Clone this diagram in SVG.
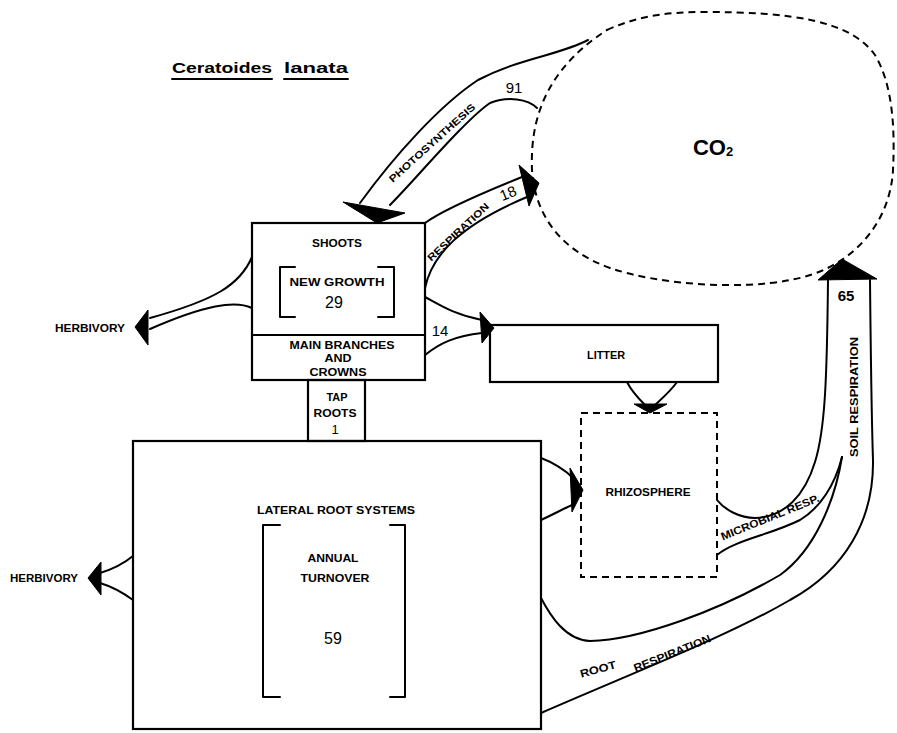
<svg xmlns="http://www.w3.org/2000/svg" width="897" height="733" viewBox="0 0 897 733">
<style>
.ln{fill:none;stroke:#000;stroke-width:2;stroke-linecap:round;stroke-linejoin:round}
.box{fill:none;stroke:#000;stroke-width:2.2}
.dash{fill:none;stroke:#000;stroke-width:2;stroke-dasharray:7 5}
.ah{fill:#000;stroke:#000;stroke-width:1;stroke-linejoin:round}
.lb{font-family:"Liberation Sans",Arial,sans-serif;font-weight:bold;font-size:11px;fill:#000;text-anchor:middle;dominant-baseline:central}
.num{font-family:"Liberation Sans",Arial,sans-serif;font-size:16px;fill:#000;text-anchor:middle;dominant-baseline:central}
.ttl{font-family:"Liberation Sans",Arial,sans-serif;font-weight:bold;font-size:15px;fill:#000}
</style>
<rect width="897" height="733" fill="#fff"/>

<g id="title">
<text class="ttl" x="172" y="73" textLength="100" lengthAdjust="spacingAndGlyphs">Ceratoides</text>
<text class="ttl" x="284" y="73" textLength="64" lengthAdjust="spacingAndGlyphs">lanata</text>
<line class="ln" x1="172" y1="79" x2="272" y2="79"/>
<line class="ln" x1="284" y1="79" x2="348" y2="79"/>
</g>

<g id="co2">
<path class="dash" d="M607,30 C640,15 670,12 705,12 C790,12 850,20 875,55 C893,85 895,130 893,170 C890,225 850,270 790,280 C740,290 660,285 610,268 C560,250 535,215 532,170 C530,120 545,70 607,30 Z"/>
<text class="lb" x="713" y="147" style="font-size:22px" text-anchor="middle">CO<tspan style="font-size:13px" dy="4">2</tspan></text>
</g>

<g id="shoots">
<rect class="box" x="252" y="223" width="173" height="157"/>
<line class="box" x1="252" y1="335" x2="425" y2="335"/>
<text class="lb" x="337" y="243" textLength="50" lengthAdjust="spacingAndGlyphs">SHOOTS</text>
<path class="ln" d="M295,267 H280 V317 H295 M378,267 H394 V317 H378"/>
<text class="lb" x="337" y="282" textLength="95" lengthAdjust="spacingAndGlyphs">NEW GROWTH</text>
<text class="num" x="334" y="302">29</text>
<text class="lb" x="342" y="345" textLength="105" lengthAdjust="spacingAndGlyphs">MAIN BRANCHES</text>
<text class="lb" x="338" y="358" textLength="27" lengthAdjust="spacingAndGlyphs">AND</text>
<text class="lb" x="338" y="372" textLength="57" lengthAdjust="spacingAndGlyphs">CROWNS</text>
</g>

<g id="taproots">
<rect class="box" x="308" y="380" width="57" height="61"/>
<text class="lb" x="337" y="397" textLength="21" lengthAdjust="spacingAndGlyphs">TAP</text>
<text class="lb" x="335" y="413" textLength="43" lengthAdjust="spacingAndGlyphs">ROOTS</text>
<text class="lb" x="335" y="429" style="font-weight:normal;font-size:13px">1</text>
</g>

<g id="lateral">
<rect class="box" x="133" y="441" width="408" height="288"/>
<text class="lb" x="336" y="510" textLength="158" lengthAdjust="spacingAndGlyphs">LATERAL ROOT SYSTEMS</text>
<path class="ln" d="M280,525 H263 V697 H280 M390,525 H405 V697 H390"/>
<text class="lb" x="333" y="558" textLength="51" lengthAdjust="spacingAndGlyphs">ANNUAL</text>
<text class="lb" x="335" y="578" textLength="69" lengthAdjust="spacingAndGlyphs">TURNOVER</text>
<text class="num" x="333" y="638">59</text>
</g>

<g id="litter">
<rect class="box" x="490" y="325" width="228" height="57"/>
<text class="lb" x="606" y="355" textLength="38" lengthAdjust="spacingAndGlyphs">LITTER</text>
</g>

<g id="rhizosphere">
<rect class="dash" x="581" y="413" width="136" height="164"/>
<text class="lb" x="648" y="492" textLength="85" lengthAdjust="spacingAndGlyphs">RHIZOSPHERE</text>
</g>

<g id="herbivory-top">
<text class="lb" x="90" y="328" textLength="70" lengthAdjust="spacingAndGlyphs">HERBIVORY</text>
</g>
<g id="herbivory-bottom">
<text class="lb" x="44" y="578" textLength="68" lengthAdjust="spacingAndGlyphs">HERBIVORY</text>
</g>

<g id="connectors">
<!-- photosynthesis -->
<path class="ln" d="M588,40 C560,55 520,58 478,80 C440,105 395,155 360,203"/>
<path class="ln" d="M537,108 C528,99 508,96 490,103 C465,120 415,180 390,205"/>
<polygon class="ah" points="343,202 405,213 377,223"/>
<text class="lb" transform="translate(432,143) rotate(-42)" style="font-size:10px" textLength="112" lengthAdjust="spacingAndGlyphs">PHOTOSYNTHESIS</text>
<text class="num" x="514" y="87" style="font-size:15px">91</text>
<!-- respiration -->
<path class="ln" d="M425,223 C440,212 470,198 522,177"/>
<path class="ln" d="M425,288 C432,255 460,225 527,197"/>
<polygon class="ah" points="519,165 539,183 529,206"/>
<text class="lb" transform="translate(458,232) rotate(-43)" style="font-size:10px" textLength="80" lengthAdjust="spacingAndGlyphs">RESPIRATION</text>
<text class="num" transform="translate(508,193) rotate(-22)" style="font-size:15px">18</text>
<!-- to litter -->
<path class="ln" d="M425,297 C440,305 455,315 482,320"/>
<path class="ln" d="M425,355 C440,343 455,336 482,333"/>
<polygon class="ah" points="480,312 494,328 482,343"/>
<text class="num" x="440" y="330" style="font-size:15px">14</text>
<!-- herbivory top -->
<path class="ln" d="M252,257 C240,285 215,300 150,318"/>
<path class="ln" d="M252,308 C235,300 205,305 150,329"/>
<polygon class="ah" points="148,310 135,327 148,345"/>
<!-- herbivory bottom -->
<path class="ln" d="M133,556 C122,565 110,570 100,573"/>
<path class="ln" d="M133,600 C122,592 110,586 100,583"/>
<polygon class="ah" points="101,562 88,578 101,595"/>
<!-- litter to rhizosphere -->
<path class="ln" d="M627,382 C632,392 640,400 645,405"/>
<path class="ln" d="M677,382 C670,392 660,400 655,405"/>
<polygon class="ah" points="634,404 667,404 650,413"/>
<!-- lateral to rhizosphere -->
<path class="ln" d="M541,458 C552,462 565,470 572,477"/>
<path class="ln" d="M541,520 C552,515 565,508 572,505"/>
<polygon class="ah" points="570,468 583,490 572,512"/>
<!-- soil respiration band -->
<path class="ln" d="M828,280 C827,380 825,430 815,462 C805,495 785,517 755,518 C740,518 725,510 717,500"/>
<path class="ln" d="M870,280 C871,380 872,430 873,460 C874,520 845,570 790,600 C730,635 640,670 541,713"/>
<path class="ln" d="M717,555 C735,540 770,535 800,520 C820,508 835,485 842,457"/>
<path class="ln" d="M541,598 C550,615 565,640 590,641 C640,640 720,610 780,575 C815,550 835,500 842,457"/>
<polygon class="ah" points="818,280 842,259 877,279"/>
<text class="num" x="846" y="295" style="font-size:15px;font-weight:bold">65</text>
<text class="lb" transform="translate(854,397) rotate(-90)" textLength="120" lengthAdjust="spacingAndGlyphs">SOIL  RESPIRATION</text>
<text class="lb" transform="translate(770,517) rotate(-22)" textLength="105" lengthAdjust="spacingAndGlyphs">MICROBIAL RESP.</text>
<text class="lb" transform="translate(598,669) rotate(-15)" textLength="37" lengthAdjust="spacingAndGlyphs">ROOT</text>
<text class="lb" transform="translate(672,653) rotate(-22)" textLength="82" lengthAdjust="spacingAndGlyphs">RESPIRATION</text>
</g>
</svg>
